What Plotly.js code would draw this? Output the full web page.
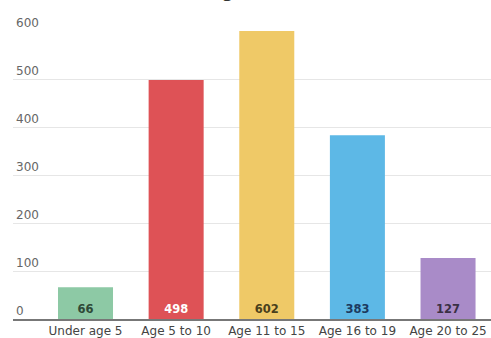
<!DOCTYPE html>
<html>
<head>
<meta charset="utf-8">
<script src="https://cdn.plot.ly/plotly-3.0.1.min.js"></script>
<style>html,body{margin:0;padding:0;background:#fff;}#chart{width:491px;height:338px;}</style>
</head>
<body>
<div id="chart"></div>
<script>
const categories = ["Under age 5", "Age 5 to 10", "Age 11 to 15", "Age 16 to 19", "Age 20 to 25"];
const counts = [66, 498, 602, 383, 127];
const barColors = ["#8dc9a5", "#de5256", "#efc967", "#5db8e6", "#a98bc8"];
const labelColors = ["#2f4a38", "#ffffff", "#4a3f1c", "#1c3a60", "#3a3044"];
const yTicks = [0, 100, 200, 300, 400, 500, 600];
const chartTitle = "Young Learners";

const trace = {
  type: "bar",
  x: categories,
  y: counts,
  marker: {color: barColors, line: {width: 0}},
  text: counts.map(String),
  textposition: "inside",
  insidetextanchor: "start",
  textangle: 0,
  constraintext: "none",
  textfont: {family: "DejaVu Sans, sans-serif", size: 11.5, color: labelColors, weight: "bold"},
  hoverinfo: "none"
};

const layout = {
  width: 491,
  height: 338,
  margin: {l: 13, r: 0, t: 31, b: 19, pad: 0},
  paper_bgcolor: "#ffffff",
  plot_bgcolor: "#ffffff",
  showlegend: false,
  bargap: 0.393,
  annotations: [{
    text: chartTitle,
    xref: "paper", yref: "paper",
    x: 0.49, y: 1, xanchor: "center", yanchor: "bottom",
    yshift: 27,
    showarrow: false,
    font: {family: "DejaVu Sans, sans-serif", size: 16, color: "#333333", weight: "bold"}
  }],
  xaxis: {
    type: "category",
    range: [-0.8, 4.474],
    showgrid: false,
    showline: true,
    linecolor: "#777777",
    linewidth: 1.5,
    ticks: "",
    tickfont: {family: "DejaVu Sans, sans-serif", size: 12, color: "#444444"},
    fixedrange: true
  },
  yaxis: {
    range: [0, 600],
    tickvals: yTicks,
    ticktext: yTicks.map(String),
    showgrid: true,
    gridcolor: "#e6e6e6",
    gridwidth: 1,
    zeroline: false,
    showline: false,
    ticks: "",
    ticklabelposition: "inside top",
    ticklabeloverflow: "allow",
    tickfont: {family: "DejaVu Sans, sans-serif", size: 12, color: "#666666"},
    fixedrange: true
  }
};

Plotly.newPlot("chart", [trace], layout, {displayModeBar: false, staticPlot: true});
</script>
</body>
</html>
